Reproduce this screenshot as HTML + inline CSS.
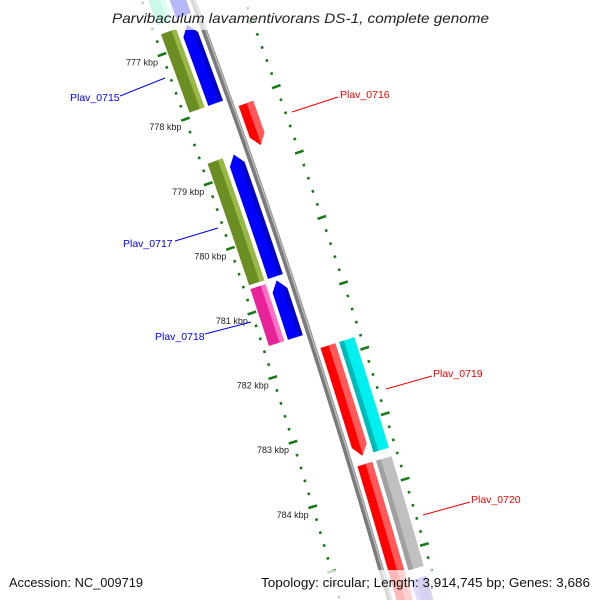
<!DOCTYPE html>
<html><head><meta charset="utf-8"><style>
html,body{margin:0;padding:0;background:#fff;width:600px;height:600px;overflow:hidden;}
svg{display:block;overflow:hidden;font-family:"Liberation Sans","DejaVu Sans",sans-serif;}
</style></head><body>
<svg id="map" width="600" height="600" viewBox="0 0 600 600">
<defs id="defs"></defs>
<g id="backbone"></g>
<g id="ticks"></g>
<g id="features"></g>
<g id="labels"></g>
<rect x="0" y="0" width="600" height="30" fill="#fff" fill-opacity="0.72"/>
<text x="112" y="23" textLength="377" lengthAdjust="spacingAndGlyphs" font-size="14" font-style="italic" fill="#222">Parvibaculum lavamentivorans DS-1, complete genome</text>
<rect x="0" y="570" width="600" height="30" fill="#fff" fill-opacity="0.72"/>
<text x="9" y="587" textLength="134" lengthAdjust="spacingAndGlyphs" font-size="13" fill="#111">Accession: NC_009719</text>
<text x="261" y="587" textLength="329" lengthAdjust="spacingAndGlyphs" font-size="13" fill="#111">Topology: circular; Length: 3,914,745 bp; Genes: 3,686</text>
</svg>
<script>
// ---- data (kbp positions) ----
const tickStart = 776.0;
const tickEnd = 785.6;
const majorLabels = [777, 778, 779, 780, 781, 782, 783, 784];
const geneNames = ["gene_prev", "Plav_0715", "Plav_0716", "Plav_0717", "Plav_0718", "Plav_0719", "Plav_0720", "gene_next"];
const geneStart = [775.4, 776.72, 778.08, 778.72, 780.66, 781.80, 783.62, 785.45];
const geneEnd   = [776.58, 777.93, 778.72, 780.60, 781.54, 783.49, 786.4, 787.0];
const geneStrand = [-1, -1, 1, -1, -1, 1, 1, 1];
const cogColor = ["#40e8a8", "#6b8e23", null, "#6b8e23", "#e8239a", "#00f0f0", "#c0c0c0", "#6a5acd"];
const cogHi    = ["#90f5cc", "#9ab845", null, "#9ab845", "#ff70c4", "#00baba", "#a0a0a0", "#8a7ae0"];
const cogEnd   = [776.58, 777.93, 778.72, 780.60, 781.54, 783.49, 785.3, 787.0];

// ---- geometry ----
const NS = "http://www.w3.org/2000/svg";
function kToT(k){ return 38 + 65*(k-777); }
function xb(t){ return 193 + 0.328*t + 7.5e-5*t*(600-t); }
function slope(t){ return 0.328 + 7.5e-5*(600-2*t); }
function P(t, r){ const s = slope(t), n = Math.sqrt(1+s*s); return [xb(t) + r/n, t - r*s/n]; }
function mk(tag, attrs, parent){ const e = document.createElementNS(NS, tag); for (const k in attrs) e.setAttribute(k, attrs[k]); parent.appendChild(e); return e; }
function pts(a){ return a.map(p=>p[0].toFixed(2)+","+p[1].toFixed(2)).join(" "); }
function band(t0, t1, r0, r1, arrow){
  const L = 10, rm = (r0+r1)/2, out = [];
  let a0 = t0, a1 = t1;
  if (arrow === -1) a0 = t0 + L;
  if (arrow === 1) a1 = t1 - L;
  const n = 12;
  for (let i=0;i<=n;i++){ out.push(P(a0+(a1-a0)*i/n, r0)); }
  if (arrow === 1) out.push(P(t1, rm));
  for (let i=n;i>=0;i--){ out.push(P(a0+(a1-a0)*i/n, r1)); }
  if (arrow === -1) out.push(P(t0, rm));
  return out;
}

// backbone
const bb = document.getElementById("backbone");
const bpts = [], bpts2 = [];
for (let t=-20; t<=620; t+=10){ bpts.push(P(t,0)); bpts2.push(P(t,1.4)); }
const b1 = mk("polyline", {points: pts(bpts), fill:"none", stroke:"#7a7a7a", "stroke-width":5.5}, bb);


const b2 = mk("polyline", {points: pts(bpts2), fill:"none", stroke:"#b8b8b8", "stroke-width":1.6}, bb);



// ticks
const tg = document.getElementById("ticks");
const ringR = [-48, 48.5];
for (let i=0; tickStart + i*0.2 <= tickEnd + 1e-6; i++){
  const k = tickStart + i*0.2, t = kToT(k);
  const major = Math.abs(k - Math.round(k)) < 1e-6;
  ringR.forEach(r=>{
    const h = major ? 4.5 : 1.3;
    const a = P(t, r-h), b = P(t, r+h);
    const l = mk("line", {x1:a[0], y1:a[1], x2:b[0], y2:b[1], stroke:"#1a7a1a", "stroke-width":2.6}, tg);
    
    
  });
}
majorLabels.forEach(k=>{
  const p = P(kToT(k), -48);
  const tx = mk("text", {x:p[0]-4, y:p[1]+11, "text-anchor":"end", "font-size":9, fill:"#222"}, tg);
  tx.textContent = k + " kbp";
  
  
});

// features
const fg = document.getElementById("features");
const defs = document.getElementById("defs");
let cid = 0;
function drawBar(t0, t1, r0, r1, arrow, color, hi, hiR0, hiR1, name){
  const poly = band(t0, t1, r0, r1, arrow);
  const id = "c" + (cid++);
  const cp = mk("clipPath", {id:id}, defs);
  mk("polygon", {points: pts(poly)}, cp);
  const g = mk("g", {}, fg);
  
  
  mk("polygon", {points: pts(poly), fill: color}, g);
  if (hi){
    const strip = band(t0-20, t1+20, hiR0, hiR1, 0);
    mk("polygon", {points: pts(strip), fill: hi, "clip-path": "url(#"+id+")"}, g);
  }
}
for (let i=0;i<geneNames.length;i++){
  const t0 = kToT(geneStart[i]), t1 = kToT(geneEnd[i]), s = geneStrand[i];
  const nm = geneNames[i].toLowerCase().replace(/_/g,'-');
  if (s === 1){
    drawBar(t0, t1, 6.5, 22, 1, "#ff0000", "#ff5a5a", 15, 23, nm + "-strand-bar");
    if (cogColor[i]) drawBar(t0, kToT(cogEnd[i]), 26, 42, 0, cogColor[i], cogHi[i], 25, 31, nm + "-cog-bar");
  } else {
    drawBar(t0, t1, -22, -6.5, -1, "#0000ff", "#0000c8", -11, -5, nm + "-strand-bar");
    if (cogColor[i]) drawBar(t0, kToT(cogEnd[i]), -42, -26, 0, cogColor[i], cogHi[i], -31, -25, nm + "-cog-bar");
  }
}

// gene labels
const lg = document.getElementById("labels");
const labelText = ["Plav_0715", "Plav_0716", "Plav_0717", "Plav_0718", "Plav_0719", "Plav_0720"];
const labelCol  = ["#0000ee", "#ee0000", "#0000ee", "#0000ee", "#ee0000", "#ee0000"];
const labelPos = [[70,101,120,96,165,78],[340,98,338,97,292,112],[123,247,175,241,218,228],[155,340,205,334,251,322],[433,377,432,376,386,389],[471,503,470,502,423,515]];
labelText.forEach((s,i)=>{
  const q = labelPos[i];
  const ln = mk("line", {x1:q[2], y1:q[3], x2:q[4], y2:q[5], stroke:labelCol[i], "stroke-width":1}, lg);
  
  
  const tx = mk("text", {x:q[0], y:q[1], "font-size":10.5, fill:labelCol[i]}, lg);
  tx.textContent = s;
  
  
});
</script>
</body></html>
